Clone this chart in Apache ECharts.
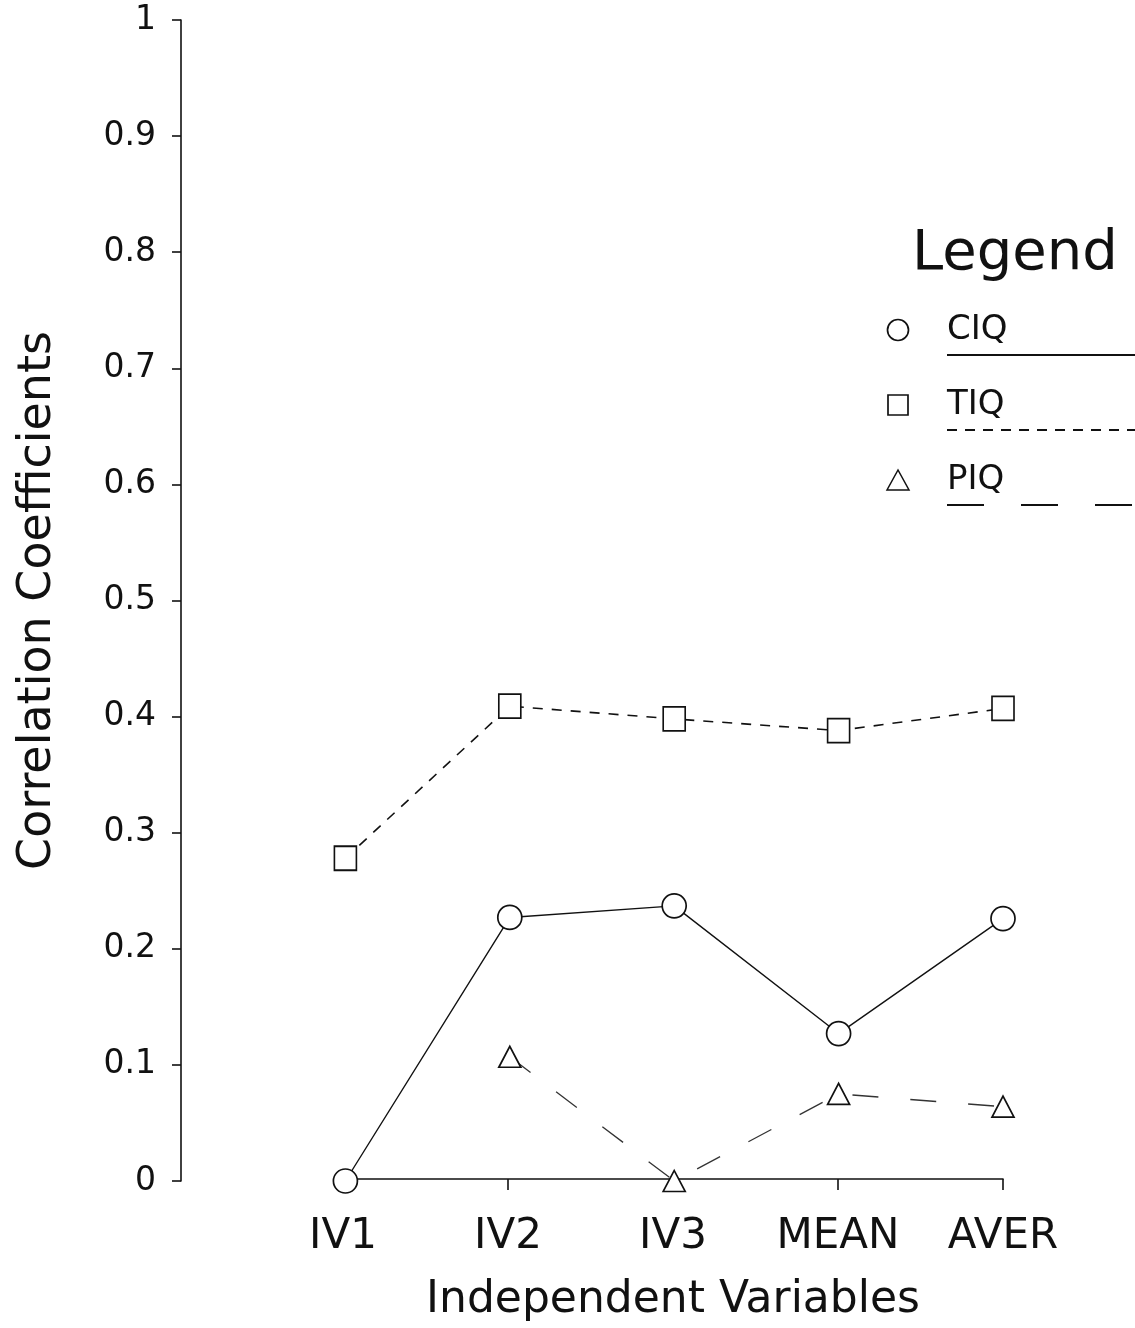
<!DOCTYPE html>
<html>
<head>
<meta charset="utf-8">
<script src="https://cdn.jsdelivr.net/npm/echarts@6/dist/echarts.min.js"></script>
<style>
html,body{margin:0;padding:0;background:#fff;}
#chart{width:1135px;height:1328px;}
</style>
</head>
<body>
<div id="chart"></div>
<script>
// ---- data ----
const categories = ['IV1', 'IV2', 'IV3', 'MEAN', 'AVER'];
const ciqValues = [0.0, 0.227, 0.237, 0.127, 0.226];
const tiqValues = [0.278, 0.409, 0.398, 0.388, 0.407];
const piqValues = [null, 0.107, 0.0, 0.075, 0.064];
const yMin = 0, yMax = 1, yStep = 0.1;
const legendTitle = 'Legend';
const seriesNames = ['CIQ', 'TIQ', 'PIQ'];

const FONT = 'DejaVu Sans';
const INK = '#111';

function toPoints(vals) {
  return vals.map((v, i) => [i + 1, v === null ? '-' : v]);
}

const chart = echarts.init(document.getElementById('chart'), null, {renderer: 'canvas'});

const markerStyle = {color: '#fff', borderColor: INK, borderWidth: 1.7};

const option = {
  backgroundColor: '#fff',
  animation: false,
  grid: [
    {left: 181, right: 132, top: 20, bottom: 147},
    {left: 343, right: 132, top: 20, bottom: 147}
  ],
  xAxis: [
    {gridIndex: 0, type: 'value', min: 0, max: categories.length, show: false},
    {
      gridIndex: 1, type: 'value', min: 1, max: categories.length, interval: 1,
      axisLine: {show: true, onZero: false, lineStyle: {color: INK, width: 1.6}},
      axisTick: {show: true, inside: false, length: 11, lineStyle: {color: INK, width: 1.6}},
      splitLine: {show: false},
      axisLabel: {
        margin: 37, color: INK, fontFamily: FONT, fontSize: 42,
        formatter: v => categories[Math.round(v) - 1] || ''
      },
      name: 'Independent Variables', nameLocation: 'middle', nameGap: 100,
      nameTextStyle: {color: INK, fontFamily: FONT, fontSize: 44}
    }
  ],
  yAxis: [
    {
      gridIndex: 0, type: 'value', min: yMin, max: yMax, interval: yStep,
      axisLine: {show: true, lineStyle: {color: INK, width: 1.6}},
      axisTick: {show: true, inside: false, length: 9, lineStyle: {color: INK, width: 1.6}},
      splitLine: {show: false},
      axisLabel: {margin: 25, color: INK, fontFamily: FONT, fontSize: 33,
        formatter: v => (Math.round(v * 10) / 10).toString()},
      name: 'Correlation Coefficients', nameLocation: 'middle', nameGap: 120,
      nameTextStyle: {color: INK, fontFamily: FONT, fontSize: 46}
    },
    {gridIndex: 1, type: 'value', min: yMin, max: yMax, show: false}
  ],
  series: [
    {
      name: seriesNames[1], type: 'line', xAxisIndex: 0, yAxisIndex: 0, clip: false,
      data: toPoints(tiqValues), symbol: 'rect', symbolSize: [22, 24],
      itemStyle: markerStyle, lineStyle: {color: INK, width: 1.6, type: [10, 9]}, z: 3
    },
    {
      name: seriesNames[0], type: 'line', xAxisIndex: 0, yAxisIndex: 0, clip: false,
      data: toPoints(ciqValues), symbol: 'circle', symbolSize: 24,
      itemStyle: markerStyle, lineStyle: {color: INK, width: 1.4, type: 'solid'}, z: 4
    },
    {
      name: seriesNames[2], type: 'line', xAxisIndex: 0, yAxisIndex: 0, clip: false,
      data: toPoints(piqValues), symbol: 'triangle', symbolSize: [22, 21],
      itemStyle: markerStyle, lineStyle: {color: '#333', width: 1.3, type: [26, 32]},
      connectNulls: false, z: 5
    }
  ],
  graphic: [
    {type: 'text', left: 912, top: 226, style: {text: legendTitle, fontFamily: FONT, fontSize: 56, fill: INK}},
    {type: 'circle', shape: {cx: 898, cy: 330, r: 10.5}, style: {fill: '#fff', stroke: INK, lineWidth: 1.7}},
    {type: 'rect', shape: {x: 888, y: 395, width: 20, height: 20}, style: {fill: '#fff', stroke: INK, lineWidth: 1.7}},
    {type: 'polygon', shape: {points: [[898, 470], [887, 490], [909, 490]]}, style: {fill: '#fff', stroke: INK, lineWidth: 1.5}},
    {type: 'text', left: 947, top: 313, style: {text: seriesNames[0], fontFamily: FONT, fontSize: 34, fill: INK}},
    {type: 'text', left: 947, top: 388, style: {text: seriesNames[1], fontFamily: FONT, fontSize: 34, fill: INK}},
    {type: 'text', left: 947, top: 463, style: {text: seriesNames[2], fontFamily: FONT, fontSize: 34, fill: INK}},
    {type: 'line', shape: {x1: 947, y1: 355, x2: 1135, y2: 355}, style: {stroke: INK, lineWidth: 1.8}},
    {type: 'line', shape: {x1: 947, y1: 430, x2: 1135, y2: 430}, style: {stroke: INK, lineWidth: 1.8, lineDash: [10, 8]}},
    {type: 'line', shape: {x1: 947, y1: 505, x2: 1135, y2: 505}, style: {stroke: INK, lineWidth: 1.8, lineDash: [37, 37]}}
  ]
};
chart.setOption(option);
</script>
</body>
</html>
